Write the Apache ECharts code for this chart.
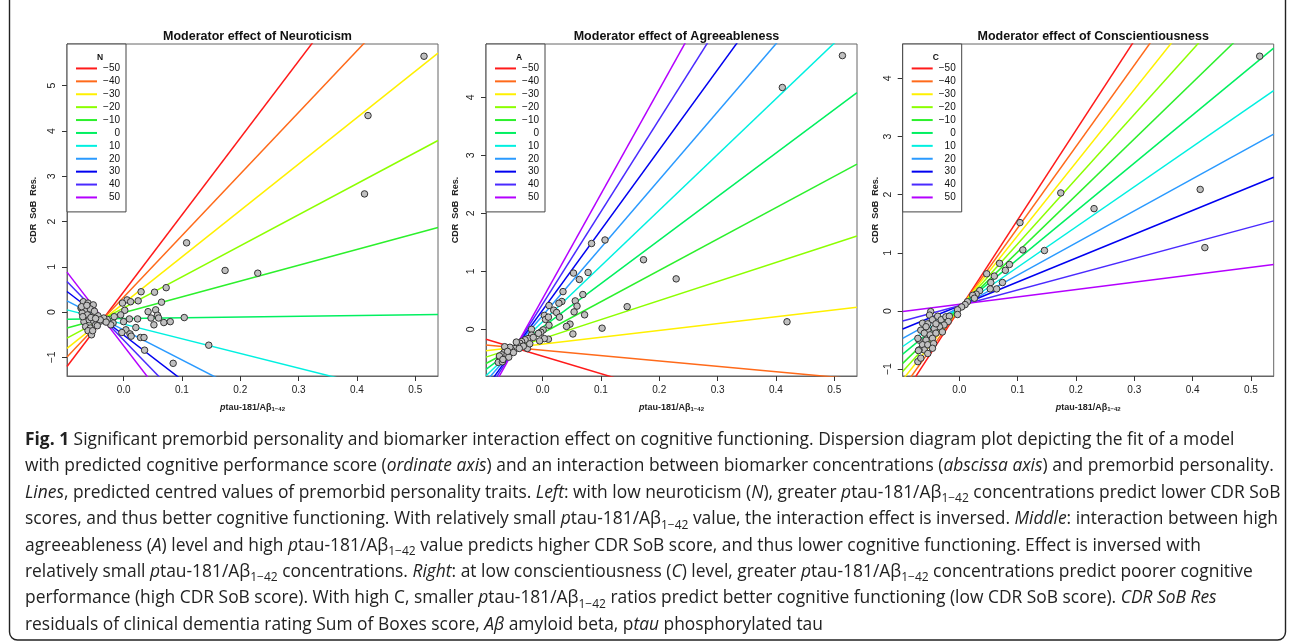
<!DOCTYPE html>
<html>
<head>
<meta charset="utf-8">
<script src="https://cdn.jsdelivr.net/npm/echarts@6/dist/echarts.min.js"></script>
<style>
html,body{margin:0;padding:0;background:#fff;}
#chart{width:1290px;height:643px;}
</style>
</head>
<body>
<div id="chart"></div>
<script>
// ---------- DATA ----------
const X_LEFT = -0.097, X_RIGHT = 0.539;
const LEVELS = ['\u221250','\u221240','\u221230','\u221220','\u221210','0','10','20','30','40','50'];
const COLORS = ['#FF1A1A','#FF6A1A','#FFF000','#8CFF00','#2CF02C','#00F060','#00F0E0','#2A9AFF','#0000F0','#4A2AFF','#B400FF'];
const X_TICKS = [0, 0.1, 0.2, 0.3, 0.4, 0.5];
const X_TICK_LABELS = ['0.0','0.1','0.2','0.3','0.4','0.5'];

const TITLES = ['Moderator effect of Neuroticism','Moderator effect of Agreeableness','Moderator effect of Conscientiousness'];
const LEGEND_TITLES = ['N','A','C'];

// predicted lines: value at x = X_LEFT and at x = X_RIGHT
const N_LINE_LEFT  = [-1.20,-0.99,-0.80,-0.574,-0.35,-0.155,0.05,0.25,0.455,0.676,0.883];
const N_LINE_RIGHT = [9.6,7.66,5.72,3.79,1.87,-0.05,-2.01,-3.96,-5.84,-7.79,-9.77];
const A_LINE_LEFT  = [-0.17,-0.27,-0.37,-0.48,-0.59,-0.69,-0.80,-0.90,-1.01,-1.11,-1.22];
const A_LINE_RIGHT = [-2.09,-0.86,0.38,1.61,2.85,4.08,5.31,6.55,7.78,9.02,10.25];
const C_LINE_LEFT  = [-1.47,-1.33,-1.18,-1.04,-0.90,-0.74,-0.61,-0.47,-0.31,-0.17,-0.01];
const C_LINE_RIGHT = [8.33,7.57,6.81,6.04,5.28,4.52,3.79,3.04,2.30,1.55,0.80];

const N_Y_RANGE = [-1.41, 5.92];  const N_Y_TICKS = [-1,0,1,2,3,4,5];
const A_Y_RANGE = [-0.805, 4.92]; const A_Y_TICKS = [0,1,2,3,4];
const C_Y_RANGE = [-1.117, 4.59]; const C_Y_TICKS = [-1,0,1,2,3,4];

const N_POINTS = [
 [0.515,5.65],[0.419,4.34],[0.413,2.61],[0.108,1.53],[0.174,0.92],[0.230,0.86],[0.073,0.54],[0.030,0.45],[0.053,0.44],[0.065,0.22],
 [0.006,0.27],[0.012,0.23],[0.025,0.25],[-0.002,0.20],[0.002,0.04],[-0.005,-0.06],[0.042,0.01],[0.055,0.05],[0.058,-0.07],[0.047,-0.13],
 [0.060,-0.13],[0.069,-0.23],[0.080,-0.21],[0.104,-0.12],[0.052,-0.28],[0.010,-0.15],[0.024,-0.15],[0.0,-0.21],[0.021,-0.34],[0.004,-0.39],
 [-0.003,-0.45],[0.011,-0.48],[0.013,-0.53],[0.029,-0.56],[0.035,-0.56],[0.036,-0.84],[0.146,-0.73],[0.085,-1.13],
 [-0.016,-0.10],[-0.018,-0.24],[-0.022,-0.28],[-0.028,-0.16],[-0.034,-0.13],[-0.040,-0.20],[-0.030,-0.22],[-0.046,-0.09],
 [-0.069,0.23],[-0.061,0.20],[-0.052,0.16],[-0.073,0.09],[-0.065,0.05],[-0.057,0.07],[-0.071,-0.02],[-0.062,-0.06],[-0.051,-0.04],[-0.044,-0.08],
 [-0.068,-0.21],[-0.059,-0.17],[-0.051,-0.21],[-0.040,-0.17],[-0.065,-0.32],[-0.057,-0.35],[-0.048,-0.28],[-0.061,-0.41],[-0.055,-0.50],[-0.072,0.12],
 [-0.056,-0.12],[-0.048,-0.14],[-0.070,-0.10],[-0.053,-0.41],[-0.045,-0.30],[-0.063,0.15],[-0.050,0.02]
];
const A_POINTS = [
 [0.514,4.72],[0.411,4.17],[0.419,0.13],[0.173,1.20],[0.229,0.87],[0.107,1.54],[0.084,1.48],[0.145,0.39],[0.102,0.02],[0.053,0.97],
 [0.063,0.86],[0.078,0.98],[0.035,0.65],[0.069,0.60],[0.056,0.49],[0.059,0.40],[0.054,0.30],[0.072,0.25],[0.033,0.48],[0.028,0.45],
 [0.011,0.41],[0.019,0.33],[0.024,0.29],[0.029,0.21],[0.003,0.24],[0.005,0.17],[0.010,0.21],[0.011,0.07],[0.047,0.09],[0.041,0.05],
 [0.052,-0.08],[0.001,-0.01],[-0.003,-0.05],[-0.007,-0.07],[0.010,-0.17],[0.003,-0.16],[-0.005,-0.20],[-0.019,0.0],[-0.019,-0.10],[-0.025,-0.16],
 [-0.016,-0.14],[-0.030,-0.18],[-0.036,-0.21],[-0.039,-0.24],[-0.043,-0.27],[-0.047,-0.33],[-0.053,-0.36],[-0.056,-0.31],[-0.063,-0.37],[-0.065,-0.30],
 [-0.066,-0.40],[-0.070,-0.44],[-0.073,-0.50],[-0.076,-0.57],[-0.069,-0.56],[-0.061,-0.44],[-0.026,-0.33],[-0.033,-0.29],[-0.040,-0.33],[-0.058,-0.48],
 [-0.050,-0.40],[-0.045,-0.22],[-0.022,-0.25],[-0.074,-0.46],[-0.068,-0.52],[-0.060,-0.38]
];
const C_POINTS = [
 [0.515,4.38],[0.413,2.09],[0.421,1.09],[0.174,2.03],[0.231,1.76],[0.104,1.52],[0.109,1.05],[0.146,1.04],[0.069,0.82],[0.086,0.80],
 [0.079,0.70],[0.074,0.49],[0.064,0.38],[0.060,0.60],[0.054,0.49],[0.053,0.38],[0.047,0.64],[0.035,0.35],[0.029,0.29],[0.023,0.27],
 [0.026,0.22],[0.014,0.16],[0.010,0.11],[0.004,0.07],[-0.003,0.02],[-0.003,-0.06],
 [-0.049,-0.01],[-0.051,-0.07],[-0.063,-0.21],[-0.054,-0.22],[-0.046,-0.15],[-0.037,-0.09],[-0.031,-0.15],[-0.023,-0.10],[-0.017,-0.09],[-0.019,-0.18],
 [-0.026,-0.24],[-0.034,-0.27],[-0.043,-0.30],[-0.054,-0.33],[-0.066,-0.33],[-0.060,-0.38],[-0.050,-0.41],[-0.040,-0.38],[-0.029,-0.36],[-0.046,-0.47],
 [-0.057,-0.50],[-0.069,-0.50],[-0.071,-0.47],[-0.063,-0.58],[-0.054,-0.58],[-0.044,-0.56],[-0.060,-0.67],[-0.069,-0.67],[-0.054,-0.73],[-0.071,-0.87],
 [-0.066,-0.81],[-0.070,-0.68],[-0.046,-0.64],[-0.040,-0.22],[-0.057,-0.27]
];

const CAPTION = [
 '{b|Fig. 1} Significant premorbid personality and biomarker interaction effect on cognitive functioning. Dispersion diagram plot depicting the fit of a model',
 'with predicted cognitive performance score ({i|ordinate axis}) and an interaction between biomarker concentrations ({i|abscissa axis}) and premorbid personality.',
 '{i|Lines}, predicted centred values of premorbid personality traits. {i|Left}: with low neuroticism ({i|N}), greater {i|p}tau-181/A\u03b2{s|1\u221242} concentrations predict lower CDR SoB',
 'scores, and thus better cognitive functioning. With relatively small {i|p}tau-181/A\u03b2{s|1\u221242} value, the interaction effect is inversed. {i|Middle}: interaction between high',
 'agreeableness ({i|A}) level and high {i|p}tau-181/A\u03b2{s|1\u221242} value predicts higher CDR SoB score, and thus lower cognitive functioning. Effect is inversed with',
 'relatively small {i|p}tau-181/A\u03b2{s|1\u221242} concentrations. {i|Right}: at low conscientiousness ({i|C}) level, greater {i|p}tau-181/A\u03b2{s|1\u221242} concentrations predict poorer cognitive',
 'performance (high CDR SoB score). With high C, smaller {i|p}tau-181/A\u03b2{s|1\u221242} ratios predict better cognitive functioning (low CDR SoB score). {i|CDR SoB Res}',
 'residuals of clinical dementia rating Sum of Boxes score, {i|A\u03b2} amyloid beta, p{i|tau} phosphorylated tau'
];

// ---------- LAYOUT ----------
const GRID_LEFT = [67, 486, 902.7];
const GRID_TOP = 44, GRID_W = 371, GRID_H = 332;
const Y_NAME_GAP = [29, 26, 23];
const AX_FONT = '"Liberation Sans", Arial, sans-serif';

const panels = [
  {left: N_LINE_LEFT, right: N_LINE_RIGHT, pts: N_POINTS, yr: N_Y_RANGE, yt: N_Y_TICKS},
  {left: A_LINE_LEFT, right: A_LINE_RIGHT, pts: A_POINTS, yr: A_Y_RANGE, yt: A_Y_TICKS},
  {left: C_LINE_LEFT, right: C_LINE_RIGHT, pts: C_POINTS, yr: C_Y_RANGE, yt: C_Y_TICKS}
];

const grid = [], xAxis = [], yAxis = [], series = [], legend = [], title = [];
panels.forEach((p, k) => {
  grid.push({left: GRID_LEFT[k], top: GRID_TOP, width: GRID_W, height: GRID_H, show: true,
    borderColor: '#666', borderWidth: 1, backgroundColor: 'transparent', containLabel: false, outerBoundsMode: 'none'});
  xAxis.push({type: 'value', gridIndex: k, min: X_LEFT, max: X_RIGHT, position: 'bottom',
    axisLine: {show: true, onZero: false, lineStyle: {color: '#666', width: 1}}, splitLine: {show: false},
    axisTick: {show: true, inside: false, length: 5, lineStyle: {color: '#333', width: 1}, customValues: X_TICKS},
    axisLabel: {customValues: X_TICKS, formatter: v => X_TICK_LABELS[X_TICKS.findIndex(t => Math.abs(t - v) < 1e-9)] || '',
      fontSize: 10, color: '#222', margin: 9, fontFamily: AX_FONT},
    name: '{i|p}tau-181/A\u03b2{s|1\u221242}', nameLocation: 'middle', nameGap: 27,
    nameTextStyle: {fontSize: 9, fontWeight: 'bold', color: '#222', fontFamily: AX_FONT,
      rich: {i: {fontStyle: 'italic', fontWeight: 'bold', fontSize: 9, fontFamily: AX_FONT},
             s: {fontSize: 6, fontWeight: 'bold', verticalAlign: 'bottom', lineHeight: 8, fontFamily: AX_FONT}}}
  });
  yAxis.push({type: 'value', gridIndex: k, min: p.yr[0], max: p.yr[1], position: 'left',
    axisLine: {show: true, onZero: false, lineStyle: {color: '#666', width: 1}}, splitLine: {show: false},
    axisTick: {show: true, inside: false, length: 5, lineStyle: {color: '#333', width: 1}, customValues: p.yt},
    axisLabel: {customValues: p.yt, rotate: 90, fontSize: 10.5, color: '#222', margin: 9, fontFamily: AX_FONT,
      formatter: v => String(Math.round(v)).replace('-', '\u2212')},
    name: 'CDR  SoB  Res.', nameLocation: 'middle', nameGap: Y_NAME_GAP[k], nameRotate: 90,
    nameTextStyle: {fontSize: 9, fontWeight: 'bold', color: '#222', fontFamily: AX_FONT}
  });
  LEVELS.forEach((lv, j) => {
    series.push({type: 'line', name: lv, xAxisIndex: k, yAxisIndex: k, showSymbol: false, symbol: 'none',
      clip: true, silent: true, animation: false, z: 2,
      lineStyle: {color: COLORS[j], width: 1.5}, itemStyle: {color: COLORS[j]},
      data: [[X_LEFT, p.left[j]], [X_RIGHT, p.right[j]]]});
  });
  series.push({type: 'scatter', name: 'pts' + k, xAxisIndex: k, yAxisIndex: k, symbol: 'circle', symbolSize: 6.5,
    animation: false, z: 5, itemStyle: {color: '#C0C0C0', borderColor: '#333', borderWidth: 1, opacity: 1},
    data: p.pts});
  legend.push({data: LEVELS, left: GRID_LEFT[k], top: GRID_TOP, orient: 'vertical', icon: 'rect',
    itemWidth: 21, itemHeight: 2, itemGap: 0, padding: [18, 6, 8, 9],
    borderColor: '#444', borderWidth: 1, borderRadius: 0, backgroundColor: '#fff', selectedMode: false,
    formatter: n => '{a|' + n + '}',
    textStyle: {fontSize: 10, color: '#111', fontFamily: AX_FONT, lineHeight: 12.9,
      rich: {a: {width: 18, align: 'right', fontSize: 10, lineHeight: 12.9, fontFamily: AX_FONT}}}});
  title.push({text: TITLES[k], left: GRID_LEFT[k] + GRID_W / 2, top: 25, textAlign: 'center',
    textStyle: {fontSize: 12.5, fontWeight: 'bold', color: '#111', fontFamily: AX_FONT}});
  title.push({text: LEGEND_TITLES[k], left: GRID_LEFT[k] + 28, top: 48, textAlign: 'center',
    textStyle: {fontSize: 8.5, fontWeight: 'bold', color: '#111', fontFamily: AX_FONT}});
});

const CAP_Y = [440, 466.4, 492.8, 519.2, 545.6, 572, 598.4, 624.8];
const CAP_FONT = '"Open Sans", "Noto Sans", sans-serif';
const CAP_SIZE = 17.4;
const graphic = [{type: 'rect', z: 0, shape: {x: 9.5, y: -20, width: 1276, height: 660, r: 8},
  style: {fill: 'none', stroke: '#222', lineWidth: 1.4}, silent: true}];
CAPTION.forEach((t, i) => {
  graphic.push({type: 'text', x: 25, y: CAP_Y[i], silent: true,
    style: {text: t, fontSize: CAP_SIZE, fontFamily: CAP_FONT, fill: '#222', verticalAlign: 'middle', align: 'left',
      rich: {
        b: {fontWeight: 'bold', fontSize: CAP_SIZE, fontFamily: CAP_FONT, fill: '#222', lineHeight: 24},
        i: {fontStyle: 'italic', fontSize: CAP_SIZE, fontFamily: CAP_FONT, fill: '#222', lineHeight: 24},
        s: {fontSize: 12, fontFamily: CAP_FONT, fill: '#222', verticalAlign: 'bottom', lineHeight: 15}
      }}});
});

const chart = echarts.init(document.getElementById('chart'), null, {renderer: 'canvas'});
chart.setOption({animation: false, backgroundColor: '#fff', title, grid, xAxis, yAxis, series, legend, graphic});
</script>
</body>
</html>
